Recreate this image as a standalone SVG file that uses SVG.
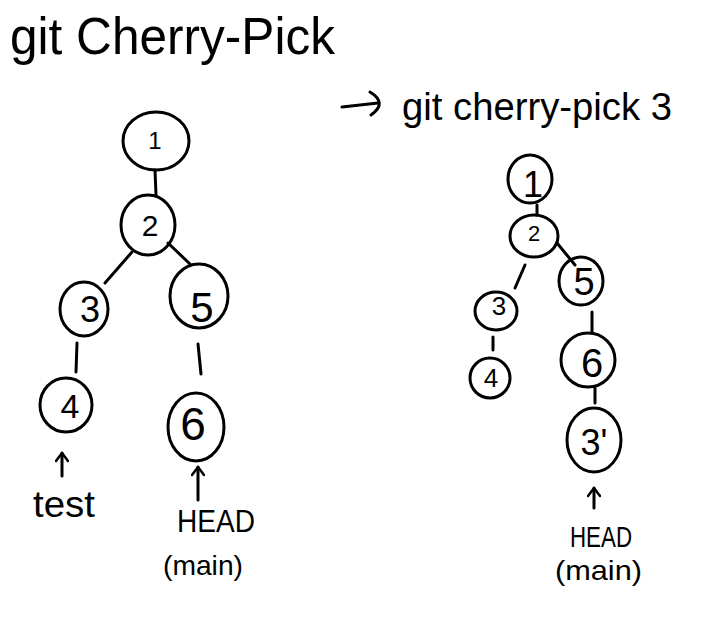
<svg xmlns="http://www.w3.org/2000/svg" width="703" height="628" viewBox="0 0 703 628">
<defs>
<style>
.n{fill:none;stroke:#000;stroke-width:3}
.c{fill:none;stroke:#000;stroke-width:3;stroke-linecap:round}
.t{font-family:"Liberation Sans",Arial,sans-serif;fill:#000;text-anchor:middle}
.l{font-family:"Liberation Sans",Arial,sans-serif;fill:#000}
.p{fill:none;stroke:#000;stroke-width:3;stroke-linecap:round;stroke-linejoin:round}
</style>
<marker id="ah" viewBox="0 0 12 14" refX="10" refY="7" markerWidth="12" markerHeight="14" markerUnits="userSpaceOnUse" orient="auto">
<path d="M2,1 L10,7 L2,13" fill="none" stroke="#000" stroke-width="2.5" stroke-linecap="round" stroke-linejoin="round"/>
</marker>
</defs>
<rect width="703" height="628" fill="#fff"/>

<g id="titles">
<text class="l" x="10" y="54" font-size="52" textLength="325" lengthAdjust="spacingAndGlyphs">git Cherry-Pick</text>
<path class="p" d="M342,107 L378,103"/>
<path class="p" d="M370,92 Q388,103 371,115"/>
<text class="l" x="402" y="120" font-size="38" textLength="270" lengthAdjust="spacingAndGlyphs">git cherry-pick 3</text>
</g>

<g id="connectors">
<line class="c" x1="155" y1="170" x2="156" y2="195"/>
<line class="c" x1="132" y1="252" x2="105" y2="283"/>
<line class="c" x1="168" y1="243" x2="190" y2="264"/>
<line class="c" x1="77" y1="343" x2="76" y2="372"/>
<line class="c" x1="198" y1="344" x2="201" y2="374"/>
<line class="c" x1="537" y1="205" x2="537" y2="215"/>
<line class="c" x1="525" y1="265" x2="515" y2="288"/>
<line class="c" x1="557" y1="243" x2="575" y2="265"/>
<line class="c" x1="493" y1="337" x2="493" y2="350"/>
<line class="c" x1="592" y1="312" x2="592" y2="332"/>
<line class="c" x1="595" y1="388" x2="595" y2="403"/>
</g>

<g id="L1"><ellipse class="n" cx="156" cy="141" rx="33" ry="29"/><text class="t" x="155" y="149" font-size="24">1</text></g>
<g id="L2"><ellipse class="n" cx="148" cy="225" rx="27" ry="30"/><text class="t" x="150" y="236" font-size="30">2</text></g>
<g id="L3"><ellipse class="n" cx="84" cy="309" rx="24" ry="27"/><text class="t" x="90" y="322" font-size="36">3</text></g>
<g id="L5"><ellipse class="n" cx="199" cy="296" rx="29" ry="32"/><text class="t" x="202" y="322" font-size="42">5</text></g>
<g id="L4"><ellipse class="n" cx="66" cy="405" rx="26" ry="27"/><text class="t" x="70" y="418" font-size="34">4</text></g>
<g id="L6"><ellipse class="n" cx="196" cy="427" rx="28" ry="34"/><text class="t" x="193" y="440" font-size="46">6</text></g>

<g id="test">
<line class="c" x1="62" y1="476" x2="62" y2="453" marker-end="url(#ah)"/>
<text class="l" x="33" y="517" font-size="36" textLength="62" lengthAdjust="spacingAndGlyphs">test</text>
</g>
<g id="HEAD-left">
<line class="c" x1="198" y1="500" x2="198" y2="467" marker-end="url(#ah)"/>
<text class="l" x="177" y="532" font-size="32" textLength="78" lengthAdjust="spacingAndGlyphs">HEAD</text>
<text class="l" x="163" y="575" font-size="28" textLength="80" lengthAdjust="spacingAndGlyphs">(main)</text>
</g>

<g id="R1"><ellipse class="n" cx="530" cy="179" rx="22" ry="24"/><text class="t" x="533" y="197" font-size="36">1</text></g>
<g id="R2"><ellipse class="n" cx="534" cy="236" rx="24" ry="21"/><text class="t" x="534" y="241" font-size="22">2</text></g>
<g id="R5"><ellipse class="n" cx="581" cy="281" rx="22" ry="24"/><text class="t" x="584" y="295" font-size="38">5</text></g>
<g id="R3"><ellipse class="n" cx="496" cy="311" rx="21" ry="19"/><text class="t" x="499" y="315" font-size="26">3</text></g>
<g id="R4"><ellipse class="n" cx="490" cy="378" rx="20" ry="20"/><text class="t" x="491" y="387" font-size="26">4</text></g>
<g id="R6"><ellipse class="n" cx="588" cy="360" rx="27" ry="27"/><text class="t" x="592" y="377" font-size="40">6</text></g>
<g id="R3p"><ellipse class="n" cx="594" cy="440" rx="27" ry="32"/><text class="t" x="594" y="455" font-size="36">3'</text></g>

<g id="HEAD-right">
<line class="c" x1="594" y1="508" x2="594" y2="488" marker-end="url(#ah)"/>
<text class="l" x="570" y="547" font-size="30" textLength="62" lengthAdjust="spacingAndGlyphs">HEAD</text>
<text class="l" x="555" y="580" font-size="28" textLength="87" lengthAdjust="spacingAndGlyphs">(main)</text>
</g>
</svg>
